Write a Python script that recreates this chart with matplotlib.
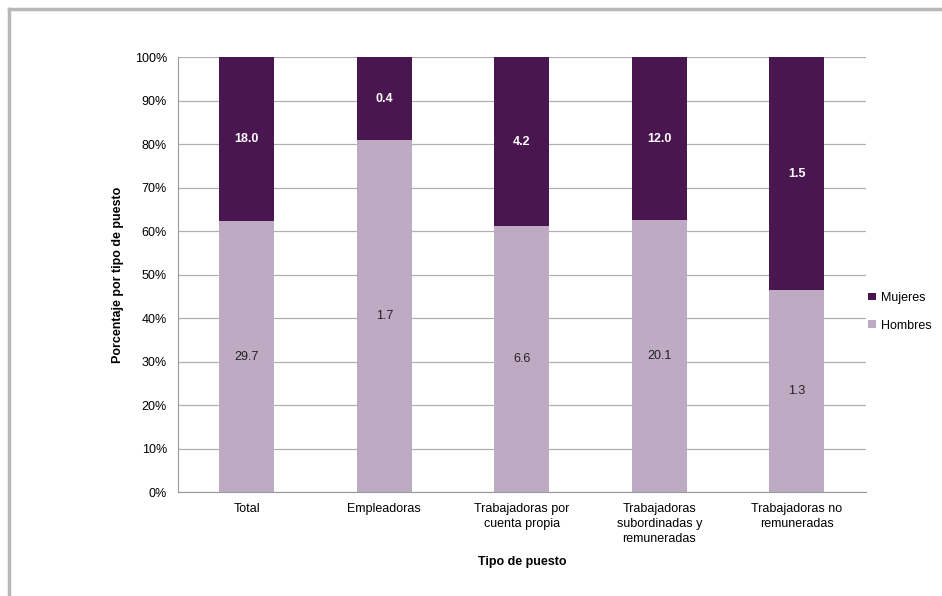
import numpy as np
import matplotlib.pyplot as plt
from matplotlib.lines import Line2D

# datos (miles)
categorias = ["Total", "Empleadoras", "Trabajadoras por\ncuenta propia",
              "Trabajadoras\nsubordinadas y\nremuneradas", "Trabajadoras no\nremuneradas"]
hombres = [29.7, 1.7, 6.6, 20.1, 1.3]
mujeres = [18.0, 0.4, 4.2, 12.0, 1.5]
yticks = [0, 10, 20, 30, 40, 50, 60, 70, 80, 90, 100]

col_h = "#bfaac3"
col_m = "#4a1650"

h = np.array(hombres)
m = np.array(mujeres)
tot = h + m
ph = h / tot * 100
pm = m / tot * 100
x = np.arange(len(categorias))

plt.rcParams['font.family'] = ['Liberation Sans', 'DejaVu Sans']

fig = plt.figure(figsize=(9.42, 5.96), dpi=100)
ax = fig.add_axes([0.189, 0.174, 0.730, 0.730])

ax.bar(x, ph, width=0.4, color=col_h, label="Hombres", zorder=3)
ax.bar(x, pm, width=0.4, bottom=ph, color=col_m, label="Mujeres", zorder=3)

for i in range(len(x)):
    ax.text(x[i], ph[i] / 2, f"{hombres[i]:.1f}", ha="center", va="center",
            fontsize=9, color="#222222", zorder=4)
    ax.text(x[i], ph[i] + pm[i] / 2, f"{mujeres[i]:.1f}", ha="center", va="center",
            fontsize=9, color="white", fontweight="bold", zorder=4)

ax.set_xlim(-0.5, len(x) - 0.5)
ax.set_ylim(0, 100)
ax.set_yticks(yticks)
ax.set_yticklabels([f"{t}%" for t in yticks], fontsize=9)
ax.set_xticks(x)
ax.set_xticklabels(categorias, fontsize=9, linespacing=1.3)
ax.tick_params(length=0, pad=8)
ax.grid(axis="y", color="#b0b0b0", linewidth=0.9, zorder=0)
for s in ["top", "right"]:
    ax.spines[s].set_visible(False)
ax.spines["left"].set_color("#999999")
ax.spines["bottom"].set_color("#999999")

ax.set_ylabel("Porcentaje por tipo de puesto", fontsize=9, fontweight="bold", labelpad=8)
ax.set_xlabel("Tipo de puesto", fontsize=9, fontweight="bold", labelpad=8)

handles, labels = ax.get_legend_handles_labels()
ax.legend(handles[::-1], labels[::-1], loc="center left", bbox_to_anchor=(0.987, 0.415),
          frameon=False, fontsize=9, handlelength=0.6, handleheight=0.6,
          handletextpad=0.4, labelspacing=1.25)

# marco
fig.add_artist(Line2D([0.0095, 0.0095], [0.0, 0.985], color="#b8b8b8", linewidth=2.5,
                      transform=fig.transFigure))
fig.add_artist(Line2D([0.0095, 1.0], [0.985, 0.985], color="#b8b8b8", linewidth=2.5,
                      transform=fig.transFigure))

fig.savefig("out.png", dpi=100)
